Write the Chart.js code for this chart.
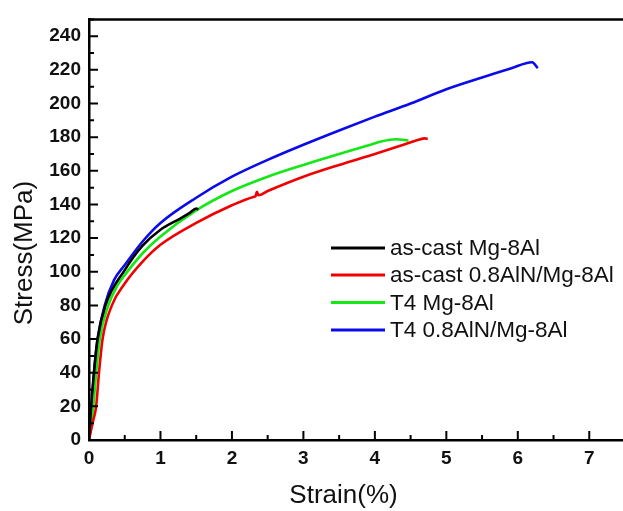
<!DOCTYPE html>
<html>
<head>
<meta charset="utf-8">
<script src="https://cdn.jsdelivr.net/npm/chart.js@4/dist/chart.umd.min.js"></script>
<style>
  html, body { margin: 0; padding: 0; overflow: hidden; background: #fff; }
  #wrap { position: absolute; left: 0; top: 0; }
</style>
</head>
<body>
<div id="wrap"><canvas id="stress" width="628" height="511"></canvas></div>
<script>
// strain (%) / stress (MPa)
var castX = [0, 0.03, 0.07, 0.12, 0.23, 0.5, 0.75, 1, 1.27, 1.41, 1.5, 1.53];
var castY = [0, 20, 40, 60, 80, 101, 115.5, 125, 131.5, 135, 137.5, 137];

var castAlnX = [0, 0.05, 0.1, 0.14, 0.19, 0.32, 0.5, 0.75, 1, 1.5, 2, 2.3, 2.33, 2.35, 2.37, 2.5, 3, 3.5, 4, 4.4, 4.6, 4.7, 4.74];
var castAlnY = [0, 10, 20, 40, 60, 80, 93, 106, 116, 129, 139.5, 144.5, 145, 147.5, 145.5, 148, 156.5, 163.5, 170, 175.5, 178.3, 179.3, 179];

var t4X = [0, 0.06, 0.1, 0.15, 0.27, 0.4, 0.5, 0.75, 1, 1.5, 2, 2.5, 3, 3.5, 3.9, 4.1, 4.3, 4.47];
var t4Y = [0, 20, 40, 60, 80, 92, 98, 111, 121, 136.5, 148, 156.5, 163.5, 170, 175, 177.6, 178.8, 178];

var t4AlnX = [0, 0.04, 0.07, 0.12, 0.22, 0.35, 0.5, 0.75, 1, 1.5, 2, 2.5, 3, 3.5, 4, 4.5, 5, 5.5, 5.9, 6.2, 6.28];
var t4AlnY = [0, 20, 40, 60, 80, 95, 104, 118, 129, 144, 156.5, 166.5, 175.5, 184, 192.2, 200, 208.5, 215.5, 220.8, 224.5, 221];

var seriesNames = ["as-cast Mg-8Al", "as-cast 0.8AlN/Mg-8Al", "T4 Mg-8Al", "T4 0.8AlN/Mg-8Al"];
var seriesColors = ["rgb(0,0,0)", "rgb(240,0,0)", "rgb(20,232,20)", "rgb(10,10,235)"];

function pts(xs, ys) {
  var out = [];
  for (var i = 0; i < xs.length; i++) out.push({ x: xs[i], y: ys[i] });
  return out;
}

var allX = [castX, castAlnX, t4X, t4AlnX];
var allY = [castY, castAlnY, t4Y, t4AlnY];
var sets = [];
for (var k = 0; k < 4; k++) {
  sets.push({
    label: seriesNames[k],
    data: pts(allX[k], allY[k]),
    borderColor: seriesColors[k],
    backgroundColor: seriesColors[k],
    borderWidth: 2.6,
    pointRadius: 0,
    cubicInterpolationMode: "monotone",
    fill: false
  });
}

var FONT = "'Liberation Sans', Arial, sans-serif";

// inward ticks, frame, axis titles and the in-plot legend
var decor = {
  id: "decor",
  afterDraw: function (chart) {
    var c = chart.ctx;
    var a = chart.chartArea;
    var xs = chart.scales.x, ys = chart.scales.y;
    c.save();
    c.strokeStyle = "#000";
    c.lineWidth = 2;
    c.beginPath();
    for (var v = 0; v <= 7.5; v += 0.5) {
      var px = xs.getPixelForValue(v);
      var len = (v % 1 === 0) ? 9 : 5;
      c.moveTo(px, a.bottom);
      c.lineTo(px, a.bottom - len);
    }
    for (var w = 0; w <= 250; w += 10) {
      var py = ys.getPixelForValue(w);
      var l2 = (w % 20 === 0) ? 9 : 5;
      c.moveTo(a.left, py);
      c.lineTo(a.left + l2, py);
    }
    c.stroke();
    c.lineWidth = 2.5;
    c.beginPath();
    c.moveTo(a.left, a.top);
    c.lineTo(a.right, a.top);
    c.lineTo(a.right, a.bottom);
    c.stroke();

    c.fillStyle = "#111";
    c.font = "26px " + FONT;
    c.textAlign = "center";
    c.textBaseline = "middle";
    c.fillText("Strain(%)", 343.5, 496);
    c.translate(25, 253);
    c.rotate(-Math.PI / 2);
    c.fillText("Stress(MPa)", 0, 0);
    c.restore();

    c.save();
    var rows = [248, 275, 302.5, 330];
    c.font = "22.5px " + FONT;
    c.textAlign = "left";
    c.textBaseline = "middle";
    chart.data.datasets.forEach(function (ds, i) {
      c.strokeStyle = ds.borderColor;
      c.lineWidth = 3;
      c.beginPath();
      c.moveTo(331, rows[i]);
      c.lineTo(385, rows[i]);
      c.stroke();
      c.fillStyle = "#111";
      c.fillText(ds.label, 390, rows[i] + 1);
    });
    c.restore();
  }
};

new Chart(document.getElementById("stress").getContext("2d"), {
  type: "line",
  data: { datasets: sets },
  options: {
    responsive: false,
    animation: false,
    devicePixelRatio: 1,
    layout: { padding: { left: 0, right: 3, top: 8, bottom: 0 } },
    plugins: { legend: { display: false }, tooltip: { enabled: false } },
    scales: {
      x: {
        type: "linear",
        min: 0,
        max: 7.5,
        grid: { display: true, drawOnChartArea: false, drawTicks: false },
        border: { color: "#000", width: 2.5 },
        ticks: {
          stepSize: 1,
          includeBounds: false,
          padding: 7,
          color: "#111",
          font: { family: FONT, size: 19, weight: "bold" }
        },
        afterFit: function (s) { s.height = 71; }
      },
      y: {
        min: 0,
        max: 250,
        grid: { display: true, drawOnChartArea: false, drawTicks: false },
        border: { color: "#000", width: 2.5 },
        ticks: {
          stepSize: 20,
          includeBounds: false,
          padding: 8,
          color: "#111",
          font: { family: FONT, size: 19, weight: "bold" }
        },
        afterFit: function (s) { s.width = 89; }
      }
    }
  },
  plugins: [decor]
});
</script>
</body>
</html>
